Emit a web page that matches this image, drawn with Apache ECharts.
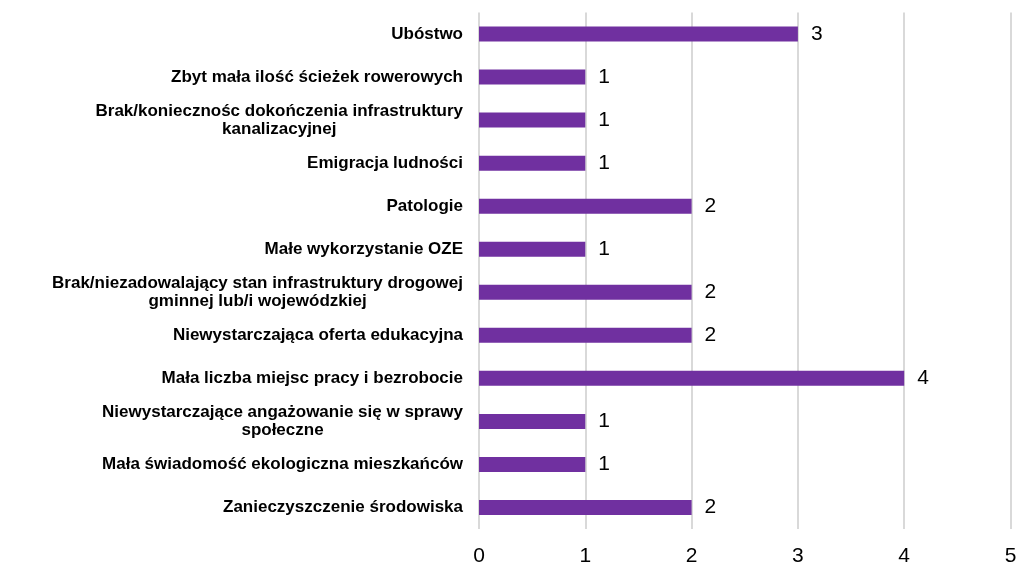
<!DOCTYPE html>
<html>
<head>
<meta charset="utf-8">
<script src="https://cdn.jsdelivr.net/npm/echarts@6/dist/echarts.min.js"></script>
<style>
  html, body { margin: 0; padding: 0; background: #fff; }
  #chart { width: 1021px; height: 573px; }
</style>
</head>
<body>
<div id="chart"></div>
<script>
var categories = [
  "Ubóstwo",
  "Zbyt mała ilość ścieżek rowerowych",
  "Brak/koniecznośc dokończenia infrastruktury\nkanalizacyjnej",
  "Emigracja ludności",
  "Patologie",
  "Małe wykorzystanie OZE",
  "Brak/niezadowalający stan infrastruktury drogowej\ngminnej lub/i wojewódzkiej",
  "Niewystarczająca oferta edukacyjna",
  "Mała liczba miejsc pracy i bezrobocie",
  "Niewystarczające angażowanie się w sprawy\nspołeczne",
  "Mała świadomość ekologiczna mieszkańców",
  "Zanieczyszczenie środowiska"
];
var values = [3, 1, 1, 1, 2, 1, 2, 2, 4, 1, 1, 2];

var myChart = echarts.init(document.getElementById("chart"));

// multi-line labels: lines centred under each other, block right-aligned
function catLabel(value) {
  return value.split("\n").map(function (l) {
    return "{c|" + l + "}";
  }).join("\n");
}

var labelFont = {
  color: "#000",
  fontFamily: "Liberation Sans",
  fontWeight: "bold",
  fontSize: 17,
  lineHeight: 18
};

myChart.setOption({
  animation: false,
  grid: { left: 479, right: 10.5, top: 12.5, bottom: 44 },
  xAxis: {
    type: "value",
    min: 0,
    max: 5,
    interval: 1,
    axisLine: { show: false },
    axisTick: { show: false },
    splitLine: { lineStyle: { color: "#d9d9d9", width: 2 } },
    axisLabel: {
      color: "#000",
      fontFamily: "Liberation Sans",
      fontSize: 21,
      margin: 17
    }
  },
  yAxis: {
    type: "category",
    inverse: true,
    data: categories,
    axisLine: { show: false },
    axisTick: { show: false },
    axisLabel: Object.assign({}, labelFont, {
      align: "right",
      margin: 16,
      formatter: catLabel,
      rich: { c: Object.assign({ align: "center" }, labelFont) }
    })
  },
  series: [
    {
      type: "bar",
      data: values,
      barWidth: 15,
      itemStyle: { color: "#7030A0" },
      label: {
        show: true,
        position: "right",
        distance: 13,
        color: "#000",
        fontFamily: "Liberation Sans",
        fontSize: 21
      }
    }
  ]
});
</script>
</body>
</html>
